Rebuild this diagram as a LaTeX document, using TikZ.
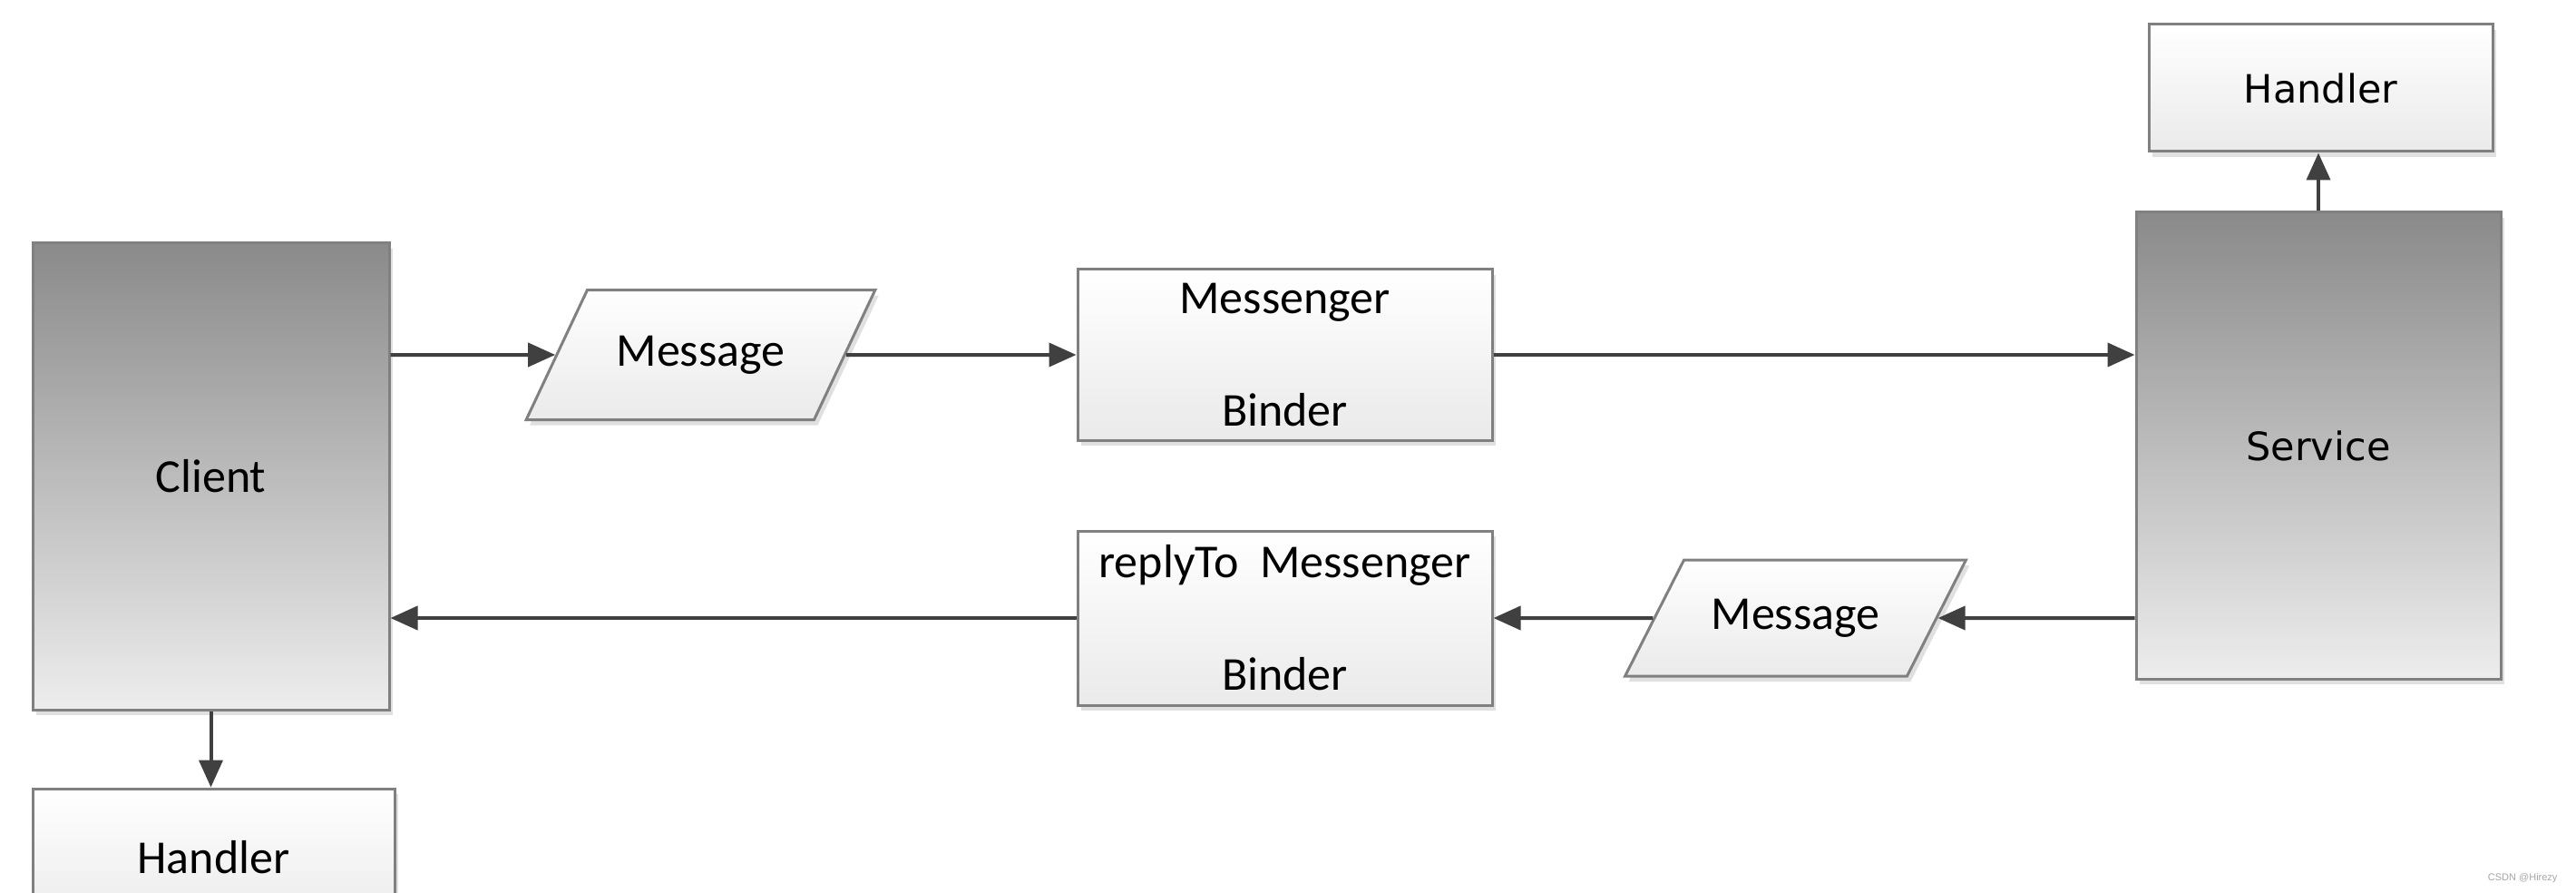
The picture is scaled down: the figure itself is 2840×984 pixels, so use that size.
\documentclass[tikz,border=0pt]{standalone}
\usepackage{fontspec}
\setmainfont{Carlito}
\newfontfamily\verd{DejaVu Sans}
\newfontfamily\wmark{Liberation Sans}
\usetikzlibrary{arrows.meta,shapes.geometric,shadows,calc}
\definecolor{boxline}{HTML}{808080}
\definecolor{arrowc}{HTML}{404040}
\definecolor{gtop}{HTML}{8A8A8A}
\definecolor{gbot}{HTML}{EDEDED}
\definecolor{lbot}{HTML}{EAEAEA}
\begin{document}
\begin{tikzpicture}[x=1pt,y=-1pt,
  shadowed/.style={drop shadow={shadow xshift=4pt,shadow yshift=-6pt,opacity=0.12,fill=black}},
  darkbox/.style={rectangle,draw=boxline,line width=3pt,top color=gtop,bottom color=gbot,inner sep=0pt,shadowed},
  lightbox/.style={rectangle,draw=boxline,line width=3pt,top color=white,bottom color=lbot,inner sep=0pt,shadowed,align=center},
  para/.style={trapezium,trapezium stretches=true,text height=35pt,text depth=10pt,inner xsep=0pt,
    draw=boxline,line width=3pt,top color=white,bottom color=lbot,shadowed},
  arr/.style={draw=arrowc,line width=4pt,-{Triangle[length=30pt,width=26pt]}},
  txt/.style={font=\fontsize{52}{62}\selectfont},
  vtxt/.style={font=\verd\fontsize{43}{50}\selectfont}]
\useasboundingbox (0,0) rectangle (2840,984);
\clip (0,0) rectangle (2840,984);
\fill[white] (0,0) rectangle (2840,984);

% nodes
\node[darkbox,txt,minimum width=393pt,minimum height=514pt] (client) at (232.5,525) {Client};
\node[lightbox,txt,minimum width=399pt,minimum height=152pt] (hc) at (235.5,945) {Handler};
\node[para,txt,trapezium left angle=70.7,trapezium right angle=109.3,inner ysep=49pt,minimum width=385pt] (m1) at (772.5,391) {Message};
\node[lightbox,txt,minimum width=457pt,minimum height=188pt] (mb) at (1416.5,391) {Messenger\\[62pt]Binder};
\node[darkbox,vtxt,minimum width=402pt,minimum height=514pt] (svc) at (2556,491) {Service};
\node[lightbox,vtxt,minimum width=379pt,minimum height=140pt] (hs) at (2558.5,97) {Handler};
\node[lightbox,txt,minimum width=457pt,minimum height=192pt] (rb) at (1416.5,681) {replyTo\ \ Messenger\\[62pt]Binder};
\node[para,txt,trapezium left angle=69,trapezium right angle=111,inner ysep=41.5pt,minimum width=377pt] (m2) at (1979.5,681) {Message};

% connectors
\draw[arr] (m1 -| client.east) -- (m1);
\draw[arr] (m1) -- (mb);
\draw[arr] (mb.east) -- (mb.east -| svc.west);
\draw[arr] (svc.north) -- (svc.north |- hs.south);
\draw[arr] (m2 -| svc.west) -- (m2);
\draw[arr] (m2) -- (rb);
\draw[arr] (rb.west) -- (rb.west -| client.east);
\draw[arr] (client.south) -- (client.south |- hc.north);

% watermark
\node[font=\wmark\fontsize{11}{13}\selectfont,text=gray!70,anchor=east] (wm) at (2823,968) {CSDN @Hirezy};
\end{tikzpicture}
\end{document}
